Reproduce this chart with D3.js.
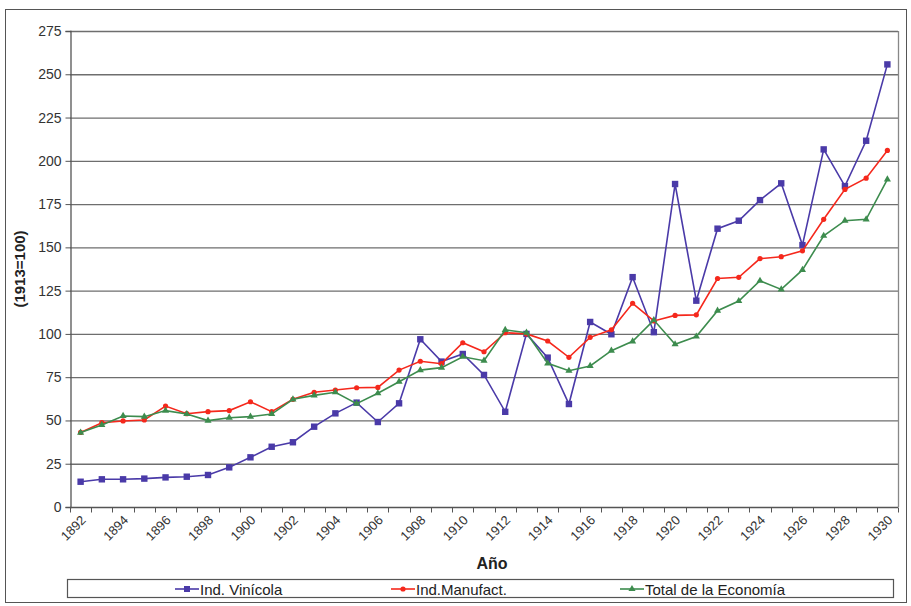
<!DOCTYPE html>
<html><head><meta charset="utf-8">
<script src="https://cdn.jsdelivr.net/npm/d3@7"></script>
<style>body{margin:0;background:#fff;} svg{display:block;font-family:"Liberation Sans",Arial,sans-serif;}</style>
</head><body>
<svg id="chart" width="911" height="606"></svg>
<script>
const years = d3.range(1892, 1931);
const yTicks = [0,25,50,75,100,125,150,175,200,225,250,275];
const seriesNames = ["Ind. Vinícola","Ind.Manufact.","Total de la Economía"];
const vinicola = [14.6,16,16,16.4,17.1,17.5,18.5,22.9,28.7,34.8,37.4,46.4,54.1,60.3,49.1,59.9,96.9,84,88.4,76.3,55,100,86.3,59.5,106.9,99.8,132.8,101,186.6,119.2,160.8,165.4,177.3,187,151.3,206.6,185.4,211.6,255.7];
const manufact = [43.1,48.7,49.7,50.3,58.3,53.9,55.1,55.7,60.8,55.1,62.2,66.3,67.6,68.9,69.1,79.1,84.2,82.8,94.9,89.7,100.7,100,95.9,86.5,98,102.4,117.7,107.5,110.7,111,132,132.7,143.5,144.6,148,166.2,183.5,190,206];
const total = [43,47.4,52.6,52.2,55.7,53.7,49.9,51.6,52.2,53.7,62.2,64.5,66.3,59.7,65.7,72.4,79.1,80.5,86.8,84.5,102.3,100.7,83,78.7,81.5,90.3,95.7,108,94,98.5,113.4,119,130.7,125.7,137,156.7,165.4,166.2,189.3];

const colors = ["#4a3aa8","#f5281c","#3d8c4e"];
const svg = d3.select("#chart");
const L = 70, R = 898, T = 31, B = 507;

// outer border
svg.append("rect").attr("x",5.5).attr("y",9.5).attr("width",901).attr("height",593)
  .attr("fill","none").attr("stroke","#555").attr("stroke-width",1);

const x = d3.scaleBand().domain(years).range([L,R]);
const y = d3.scaleLinear().domain([0,275]).range([B,T]);

// gridlines
svg.append("g").selectAll("line").data(yTicks.filter(d=>d>0)).join("line")
  .attr("x1",L).attr("x2",R).attr("y1",d=>y(d)+0.5).attr("y2",d=>y(d)+0.5)
  .attr("stroke","#6e6e6e").attr("stroke-width",1.3);
// plot right border
svg.append("line").attr("x1",R+0.5).attr("x2",R+0.5).attr("y1",T).attr("y2",B).attr("stroke","#888").attr("stroke-width",1.3);

// y axis
const yAxis = d3.axisLeft(y).tickValues(yTicks).tickSize(5).tickPadding(4);
const gy = svg.append("g").attr("transform",`translate(${L+0.5},0)`).call(yAxis);
gy.select(".domain").attr("stroke","#555").attr("stroke-width",1.3);
gy.selectAll(".tick line").attr("stroke","#555");
gy.selectAll("text").attr("font-size",14).attr("fill","#333").attr("font-family","Liberation Sans, Arial, sans-serif");

// x axis
const gx = svg.append("g").attr("transform",`translate(0,${B+0.5})`);
gx.append("line").attr("x1",L).attr("x2",R).attr("stroke","#555").attr("stroke-width",1.3);
const bounds = years.map(d=>x(d)).concat([R]);
gx.selectAll("line.tk").data(bounds).join("line").attr("class","tk")
  .attr("x1",d=>Math.round(d)+0.5).attr("x2",d=>Math.round(d)+0.5).attr("y1",0).attr("y2",5)
  .attr("stroke","#555");
const xAxis = d3.axisBottom(x).tickValues(years.filter((d,i)=>i%2===0)).tickSize(0);
const gxl = svg.append("g").attr("transform",`translate(0,${B})`).call(xAxis);
gxl.select(".domain").remove();
gxl.selectAll("text").attr("font-size",13).attr("fill","#333")
  .attr("font-family","Liberation Sans, Arial, sans-serif")
  .attr("text-anchor","end").attr("dy",null).attr("y",0)
  .attr("transform","translate(6,14) rotate(-45)");

// axis titles
svg.append("text").attr("x",492).attr("y",569).attr("text-anchor","middle")
  .attr("font-size",16).attr("font-weight","bold").attr("fill","#222").text("Año");
svg.append("text").attr("transform","translate(25,269) rotate(-90)").attr("text-anchor","middle")
  .attr("font-size",15).attr("font-weight","bold").attr("fill","#222").text("(1913=100)");

const data = [vinicola, manufact, total];
const cx = d => x(d) + x.bandwidth()/2;
const line = d3.line().x((d,i)=>cx(years[i])).y(d=>y(d));

data.forEach((vals,k)=>{
  const g = svg.append("g");
  g.append("path").datum(vals).attr("d",line).attr("fill","none")
    .attr("stroke",colors[k]).attr("stroke-width",1.6);
  const pts = g.selectAll("g.m").data(vals).join("g")
    .attr("transform",(d,i)=>`translate(${cx(years[i])},${y(d)})`);
  if(k===0) pts.append("rect").attr("x",-3.2).attr("y",-3.2).attr("width",6.4).attr("height",6.4).attr("fill",colors[k]);
  if(k===1) pts.append("circle").attr("r",2.6).attr("fill",colors[k]);
  if(k===2) pts.append("path").attr("d",d3.symbol(d3.symbolTriangle,22)()).attr("fill",colors[k]);
});

// legend
const lg = svg.append("g");
lg.append("rect").attr("x",67.5).attr("y",579.5).attr("width",826).attr("height",18)
  .attr("fill","#fff").attr("stroke","#555").attr("stroke-width",1.2);
const lx = [175, 391, 620];
seriesNames.forEach((n,k)=>{
  const g = lg.append("g").attr("transform",`translate(${lx[k]},589)`);
  g.append("line").attr("x1",0).attr("x2",24).attr("stroke",colors[k]).attr("stroke-width",1.6);
  if(k===0) g.append("rect").attr("x",9).attr("y",-3).attr("width",6).attr("height",6).attr("fill",colors[k]);
  if(k===1) g.append("circle").attr("cx",12).attr("r",2.6).attr("fill",colors[k]);
  if(k===2) g.append("path").attr("transform","translate(12,0)").attr("d",d3.symbol(d3.symbolTriangle,22)()).attr("fill",colors[k]);
  g.append("text").attr("x",25).attr("y",5.5).attr("font-size",15).attr("fill","#222").text(n);
});
</script>
</body></html>
